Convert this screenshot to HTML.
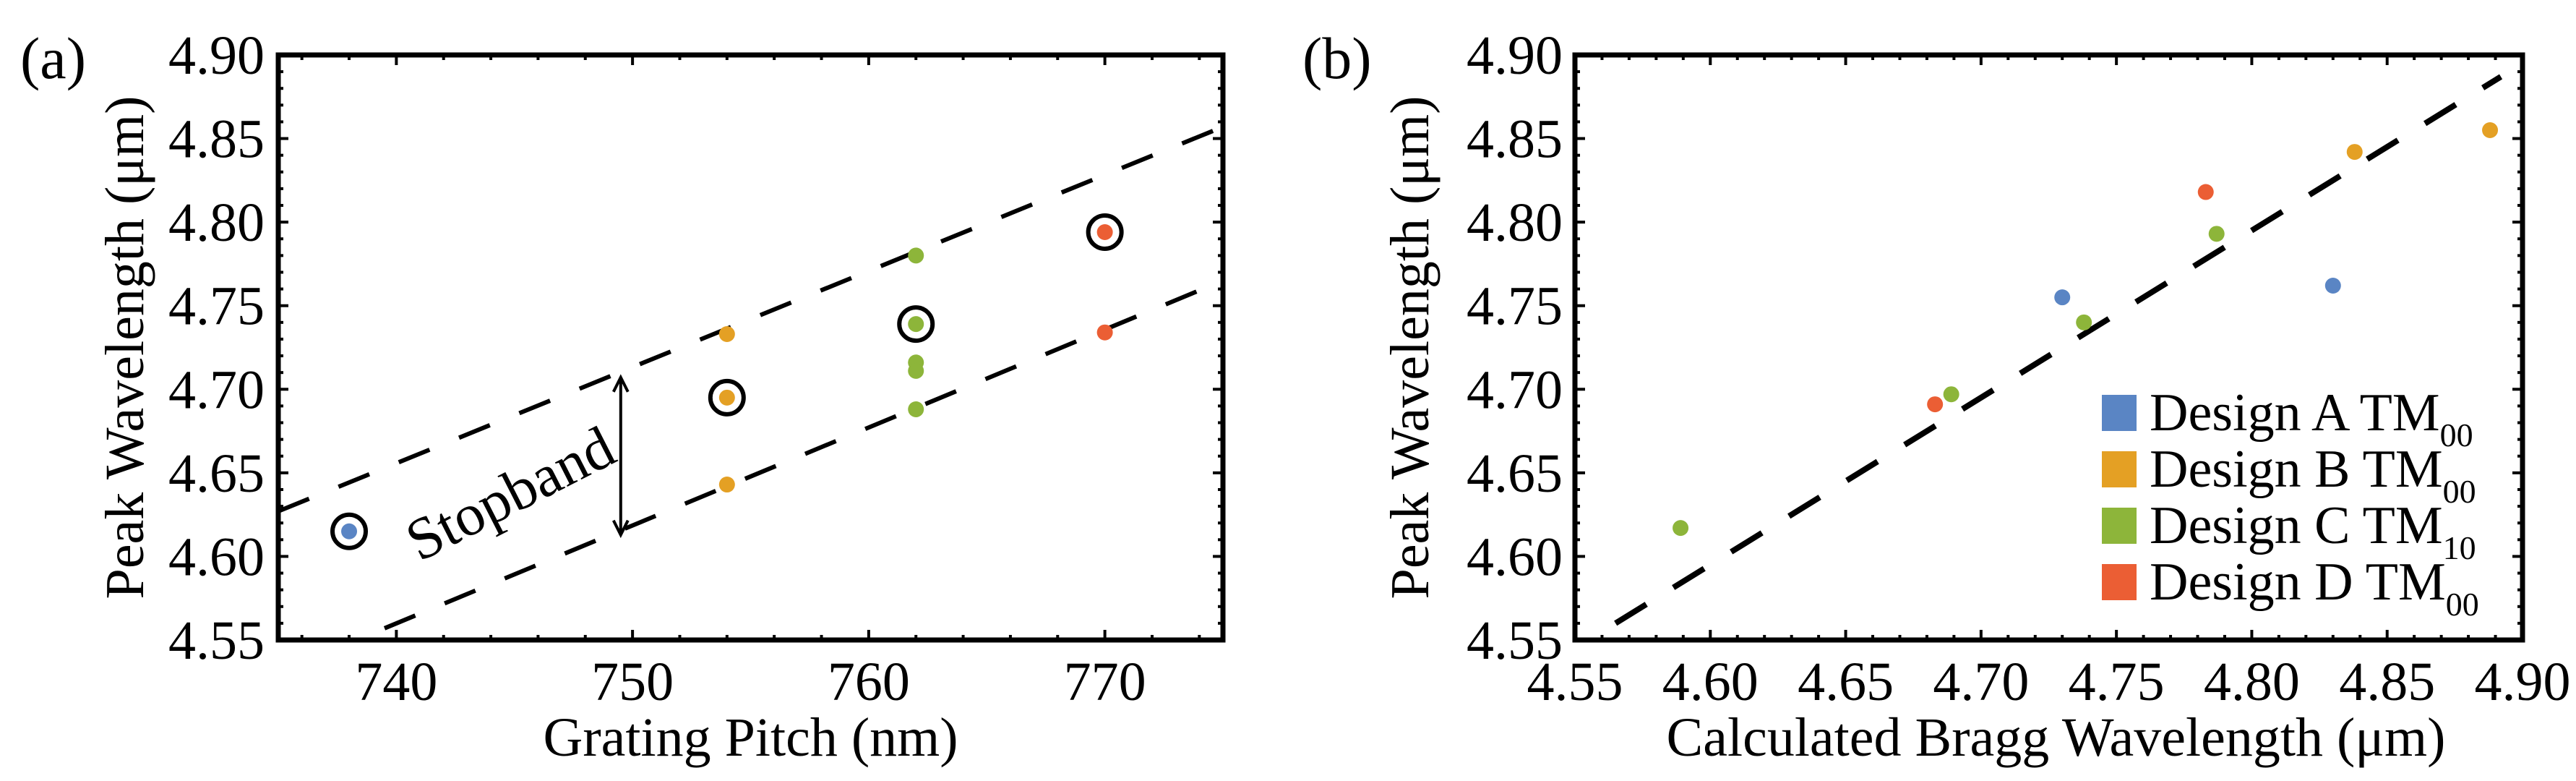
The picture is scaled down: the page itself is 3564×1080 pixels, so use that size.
<!DOCTYPE html>
<html><head><meta charset="utf-8"><style>
html,body{margin:0;padding:0;background:#fff;}
svg{display:block;}
svg text{font-family:"Liberation Serif","Times New Roman","DejaVu Serif",serif;}
</style></head><body>
<svg id="fig" width="3564" height="1080" viewBox="0 0 3564 1080" xmlns="http://www.w3.org/2000/svg" font-family="Liberation Serif, serif"></svg>
<script>
// ---- Panel (a) data ----
const aXTicks = [740, 750, 760, 770];
const aYTicks = [4.55, 4.60, 4.65, 4.70, 4.75, 4.80, 4.85, 4.90];
const aBlueX = [738], aBlueY = [4.615];
const aOrangeX = [754, 754, 754], aOrangeY = [4.733, 4.695, 4.643];
const aGreenX = [762, 762, 762, 762, 762], aGreenY = [4.780, 4.739, 4.716, 4.711, 4.688];
const aRedX = [770, 770], aRedY = [4.794, 4.734];
const aCircledX = [738, 754, 762, 770], aCircledY = [4.615, 4.695, 4.739, 4.794];
const aUpperLineX = [735, 775], aUpperLineY = [4.627, 4.857];
const aLowerLineX = [739.5, 775], aLowerLineY = [4.557, 4.765];
// ---- Panel (b) data ----
const bTicks = [4.55, 4.60, 4.65, 4.70, 4.75, 4.80, 4.85, 4.90];
const bBlueX = [4.730, 4.830], bBlueY = [4.755, 4.762];
const bOrangeX = [4.838, 4.888], bOrangeY = [4.842, 4.855];
const bGreenX = [4.589, 4.689, 4.738, 4.787], bGreenY = [4.617, 4.697, 4.740, 4.793];
const bRedX = [4.683, 4.783], bRedY = [4.691, 4.818];
const bFitX = [4.565, 4.892], bFitY = [4.560, 4.887];
const legendLabels = ["Design A TM", "Design B TM", "Design C TM", "Design D TM"];
const legendSubs = ["00", "00", "10", "00"];

const C = {blue:"#5a85c4", orange:"#e4a024", green:"#8db53a", red:"#eb5e34"};
const NS = "http://www.w3.org/2000/svg";
const FONT = '"Liberation Serif","Times New Roman","DejaVu Serif",serif';
const svg = document.getElementById('fig');
function mk(tag, attrs, parent){const e=document.createElementNS(NS,tag);for(const k in attrs)e.setAttribute(k,attrs[k]);(parent||svg).appendChild(e);return e;}

const aL=385,aR=1692,aT=76,aB=885;
const ax = v => aL + (v-735)/(775-735)*(aR-aL);
const ay = v => aB - (v-4.55)/(0.35)*(aB-aT);
const bL=2179,bR=3490,bT=76,bB=885;
const bx = v => bL + (v-4.55)/0.35*(bR-bL);
const by = v => bB - (v-4.55)/0.35*(bB-bT);

function ticks(g,L,R,T,B,xs,xmin,xmax,xstep,ys,ymin,ymax,ystep,fx,fy){
  for(let v=xmin; v<=xmax+1e-9; v+=xstep){
    const x=fx(v); const major = xs.some(t=>Math.abs(t-v)<1e-6); const len=major?14:7;
    let t=mk('line',{x1:x,y1:B,x2:x,y2:B-len,stroke:'#000','stroke-width':4},g);
    
    
    t=mk('line',{x1:x,y1:T,x2:x,y2:T+len,stroke:'#000','stroke-width':4},g);
    
    
  }
  for(let v=ymin; v<=ymax+1e-9; v+=ystep){
    const y=fy(v); const major = ys.some(t=>Math.abs(t-v)<1e-6); const len=major?14:7;
    let t=mk('line',{x1:L,y1:y,x2:L+len,y2:y,stroke:'#000','stroke-width':4},g);
    
    
    t=mk('line',{x1:R,y1:y,x2:R-len,y2:y,stroke:'#000','stroke-width':4},g);
    
    
  }
}
function dots(g,xs,ys,fx,fy,color,name){
  for(let i=0;i<xs.length;i++){
    const d=mk('circle',{cx:fx(xs[i]),cy:fy(ys[i]),r:11,fill:color},g);
    
    
  }
}
function label(g,x,y,txt,anchor,size,name){
  const t=mk('text',{x:x,y:y,'font-size':size,'text-anchor':anchor,fill:'#000','font-family':FONT},g);
  t.textContent=txt;
  
  
  return t;
}

// ===== Panel A =====
const gA=mk('g',{});


let l1=mk('line',{x1:ax(aUpperLineX[0]),y1:ay(aUpperLineY[0]),x2:ax(aUpperLineX[1]),y2:ay(aUpperLineY[1]),stroke:'#000','stroke-width':6,'stroke-dasharray':'46 44'},gA);


let l2=mk('line',{x1:ax(aLowerLineX[0]),y1:ay(aLowerLineY[0]),x2:ax(aLowerLineX[1]),y2:ay(aLowerLineY[1]),stroke:'#000','stroke-width':6,'stroke-dasharray':'46 44'},gA);


dots(gA,aBlueX,aBlueY,ax,ay,C.blue,'point-design-a');
dots(gA,aOrangeX,aOrangeY,ax,ay,C.orange,'point-design-b');
dots(gA,aGreenX,aGreenY,ax,ay,C.green,'point-design-c');
dots(gA,aRedX,aRedY,ax,ay,C.red,'point-design-d');
for(let i=0;i<aCircledX.length;i++){
  const c=mk('circle',{cx:ax(aCircledX[i]),cy:ay(aCircledY[i]),r:23,fill:'none',stroke:'#000','stroke-width':6},gA);
  
  
}
const arX=ax(749.5), arT=ay(4.708), arB=ay(4.612);
let ar=mk('path',{d:`M${arX},${arT+4} L${arX},${arB-4} M${arX-10},${arT+22} L${arX},${arT+2} L${arX+10},${arT+22} M${arX-10},${arB-22} L${arX},${arB-2} L${arX+10},${arB-22}`,stroke:'#000','stroke-width':4,fill:'none'},gA);


let sb=label(gA,0,0,'Stopband','middle',82,'stopband-label');
sb.setAttribute('transform',`translate(${ax(745.2)},${ay(4.627)}) rotate(-27)`);
let fa=mk('rect',{x:aL,y:aT,width:aR-aL,height:aB-aT,fill:'none',stroke:'#000','stroke-width':7},gA);


ticks(gA,aL,aR,aT,aB,aXTicks,736,774,2,aYTicks,4.55,4.90,0.01,ax,ay);
aXTicks.forEach(v=>label(gA,ax(v),968,String(v),'middle',76,'x-tick-label'));
aYTicks.forEach(v=>label(gA,366,ay(v)+26,v.toFixed(2),'end',76,'y-tick-label'));
label(gA,ax(755),1045,'Grating Pitch (nm)','middle',76,'x-axis-title');
let yta=label(gA,0,0,'Peak Wavelength (\u03BCm)','middle',76,'y-axis-title');
yta.setAttribute('transform',`translate(198,${(aT+aB)/2}) rotate(-90)`);
label(gA,28,108,'(a)','start',82,'panel-label-a');

// ===== Panel B =====
const gB=mk('g',{});


let fl=mk('line',{x1:bx(bFitX[0]),y1:by(bFitY[0]),x2:bx(bFitX[1]),y2:by(bFitY[1]),stroke:'#000','stroke-width':8,'stroke-dasharray':'50 44'},gB);


dots(gB,bBlueX,bBlueY,bx,by,C.blue,'point-design-a');
dots(gB,bOrangeX,bOrangeY,bx,by,C.orange,'point-design-b');
dots(gB,bGreenX,bGreenY,bx,by,C.green,'point-design-c');
dots(gB,bRedX,bRedY,bx,by,C.red,'point-design-d');
let fb=mk('rect',{x:bL,y:bT,width:bR-bL,height:bB-bT,fill:'none',stroke:'#000','stroke-width':7},gB);


ticks(gB,bL,bR,bT,bB,bTicks,4.55,4.90,0.01,bTicks,4.55,4.90,0.01,bx,by);
bTicks.forEach(v=>label(gB,bx(v),968,v.toFixed(2),'middle',76,'x-tick-label'));
bTicks.forEach(v=>label(gB,2162,by(v)+26,v.toFixed(2),'end',76,'y-tick-label'));
label(gB,(bL+bR)/2+10,1045,'Calculated Bragg Wavelength (\u03BCm)','middle',76,'x-axis-title');
let ytb=label(gB,0,0,'Peak Wavelength (\u03BCm)','middle',76,'y-axis-title');
ytb.setAttribute('transform',`translate(1976,${(bT+bB)/2}) rotate(-90)`);
label(gB,1802,108,'(b)','start',82,'panel-label-b');
const legColors=[C.blue,C.orange,C.green,C.red];
const legend=mk('g',{},gB);


for(let i=0;i<legendLabels.length;i++){
  const cy=571+i*78;
  const sq=mk('rect',{x:2908,y:cy-25,width:48,height:50,fill:legColors[i]},legend);
  
  
  const t=mk('text',{x:2974,y:cy+24,'font-size':74,fill:'#000','font-family':FONT},legend);
  
  
  t.textContent=legendLabels[i];
  const s=mk('tspan',{'font-size':46,dy:22},t);
  s.textContent=legendSubs[i];
}
</script>
</body></html>
